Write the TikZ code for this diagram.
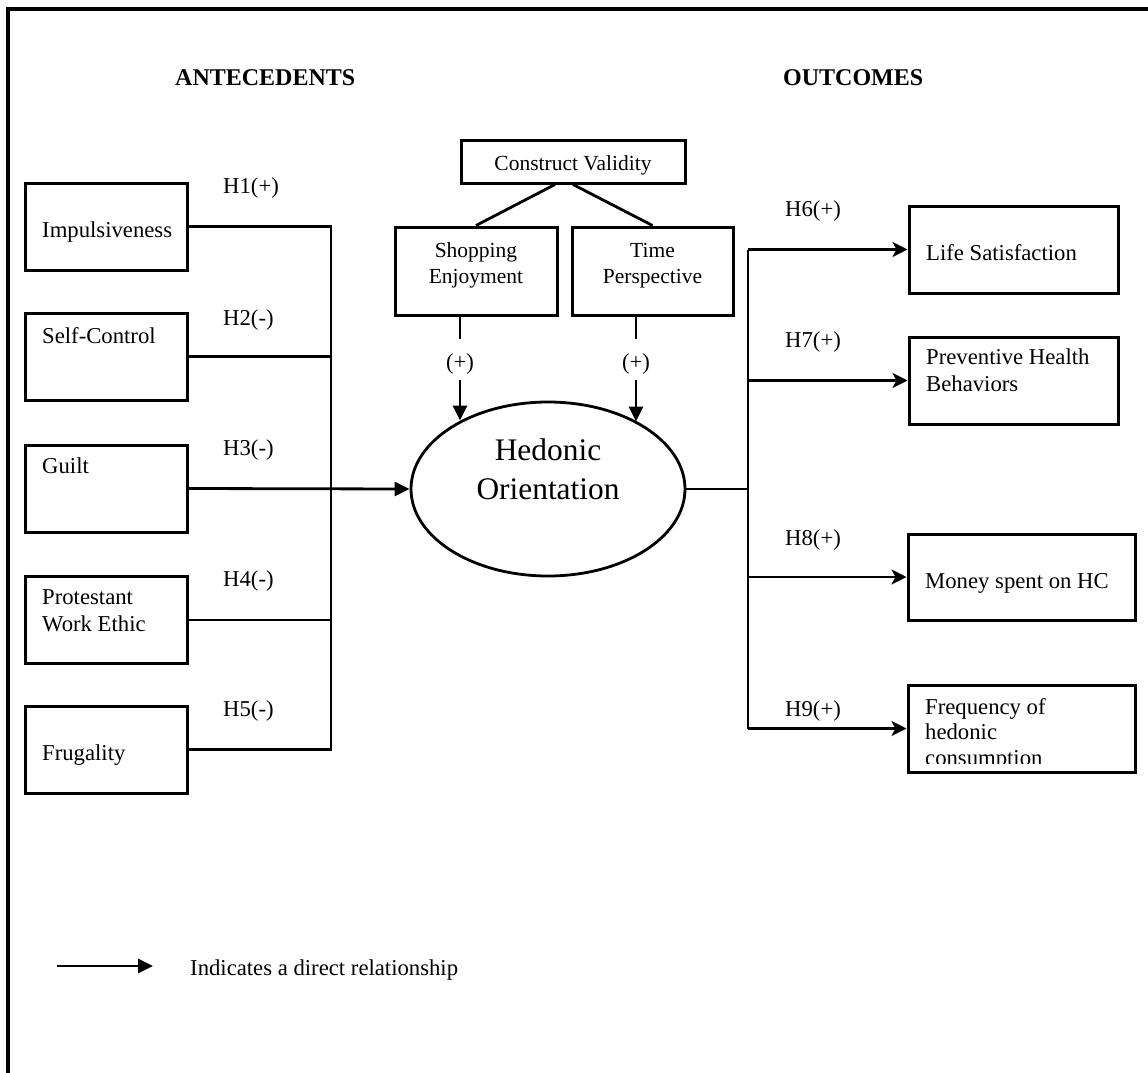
\documentclass[tikz,border=0pt]{standalone}
\usepackage{fontspec}
\setmainfont{Liberation Serif}
\usetikzlibrary{positioning, arrows.meta, calc, shapes.geometric}
\newcommand{\bodyfs}{\fontsize{22.7}{26.5}\selectfont}
\newcommand{\midfs}{\fontsize{21.5}{26}\selectfont}
\newcommand{\hofs}{\fontsize{31.4}{39}\selectfont}
\newcommand{\headfs}{\fontsize{24}{28}\selectfont\bfseries}
\tikzset{
  box/.style  = {draw, rectangle, line width=3pt, inner sep=0pt},
  lbl/.style  = {font=\bodyfs, inner sep=0pt, anchor=base west, align=left},
  ln/.style   = {line width=2.8pt},
  arr/.style  = {-{Triangle[length=15pt, width=14pt]}, line width=2.8pt},
  oarr/.style = {-{Stealth[length=15pt, width=15pt, inset=4pt]}, line width=2.8pt},
}

\begin{document}
\begin{tikzpicture}[x=1pt, y=-1pt]
  \useasboundingbox (0,0) rectangle (1148,1073);
  % frame
  \draw[line width=3.2pt] (8,1073) -- (8,9) -- (1148,9);
  % headings
  \node[lbl, font=\headfs] (anteh) at (175,85) {ANTECEDENTS};
  \node[lbl, font=\headfs] (outh) at (783,85) {OUTCOMES};
  % antecedents
  \node[box, minimum width=162pt, minimum height=87pt] (imp)   at (106,226.5) {};
  \node[box, minimum width=162pt, minimum height=87pt] (sc)    at (106,356.5) {};
  \node[box, minimum width=162pt, minimum height=87pt] (guilt) at (106,488.5) {};
  \node[box, minimum width=162pt, minimum height=87pt] (pwe)   at (106,620) {};
  \node[box, minimum width=162pt, minimum height=87pt] (frug)  at (106,749.5) {};
  \node[lbl] (impt) at (42,237) {Impulsiveness};
  \node[lbl] (sct)  at (42,343) {Self-Control};
  \node[lbl] (gt)   at (42,473) {Guilt};
  \node[lbl] (pwet) at (42,631) {Protestant\\Work Ethic};
  \node[lbl] (frt)  at (42,760) {Frugality};
  \foreach \i/\s/\y in {1/+/193, 2/-/325, 3/-/455, 4/-/586, 5/-/716}
    \node[lbl] (h\i) at (223,\y) {H\i(\s)};
  % left bus
  \coordinate (lb) at (331,0);
  \draw[ln] (imp.east) -- (imp.east -| lb) -- (frug.east -| lb) -- (frug.east);
  \foreach \n in {sc,pwe}
    \draw[ln] (\n.east) -- (\n.east -| lb);
  % construct validity
  \node[box, minimum width=224pt, minimum height=43pt] (cv) at (573,161.5) {};
  \node[lbl, font=\midfs, anchor=base] (cvt) at (573,170) {Construct Validity};
  \node[box, minimum width=162pt, minimum height=88pt] (shop) at (476,271) {};
  \node[box, minimum width=161pt, minimum height=88pt] (time) at (652.5,271) {};
  \node[lbl, font=\midfs, anchor=base, align=center] (shopt) at (476,283) {Shopping\\Enjoyment};
  \node[lbl, font=\midfs, anchor=base, align=center] (timet) at (652.5,283) {Time\\Perspective};
  \draw[ln] ($(cv.south)+(-18,0)$) -- (shop.north);
  \draw[ln] (cv.south) -- (time.north);
  % hedonic orientation
  \node[draw, ellipse, line width=2.8pt, minimum width=274pt, minimum height=174pt,
        inner sep=0pt] (ho) at (548,489) {};
  \node[lbl, font=\hofs, anchor=base, align=center] (hot) at (548,499) {Hedonic\\Orientation};
  \draw[arr] (guilt.east) -- (ho.west);
  % moderators
  \node[lbl, anchor=base] (ps) at (460,369) {(+)};
  \node[lbl, anchor=base] (pt) at (636,369) {(+)};
  \coordinate (sa) at (460,380);
  \coordinate (ta) at (636,380);
  \draw[ln] (shop.south -| sa) -- ++(0,22);
  \draw[ln] (time.south -| ta) -- ++(0,22);
  \draw[arr] (sa) -- (sa |- ho.142.8);
  \draw[arr] (ta) -- (ta |- ho.37.2);
  % outcomes
  \node[box, minimum width=209pt, minimum height=87pt] (ls)    at (1013.5,249.5) {};
  \node[box, minimum width=209pt, minimum height=87pt] (phb)   at (1013.5,380.5) {};
  \node[box, minimum width=227pt, minimum height=86pt] (money) at (1021.5,577) {};
  \node[box, minimum width=227pt, minimum height=87pt] (freq)  at (1021.5,728.5) {};
  \node[lbl] (lst)  at (926,260) {Life Satisfaction};
  \node[lbl] (phbt) at (926,391) {Preventive Health\\Behaviors};
  \node[lbl] (mt)   at (925,588) {Money spent on HC};
  \begin{scope}
    \clip (909,687) rectangle (1134,763);
    \node[lbl, font=\fontsize{22.7}{25.5}\selectfont] (ft) at (925,765) {Frequency of\\hedonic\\consumption};
  \end{scope}
  \foreach \i/\y in {6/216, 7/347, 8/545, 9/716}
    \node[lbl] (h\i) at (785,\y) {H\i(+)};
  % right bus
  \coordinate (rb) at (748,0);
  \draw[ln] (ho.east) -- (ho.east -| rb);
  \draw[ln] (ls.west -| rb) -- (freq.west -| rb);
  \foreach \n in {ls,phb,money,freq}
    \draw[oarr] (\n.west -| rb) -- (\n.west);
  % legend
  \coordinate (lga) at (57,966);
  \coordinate (lgb) at (153,966);
  \draw[arr] (lga) -- (lgb);
  \node[lbl] (lgt) at (190,975) {Indicates a direct relationship};
\end{tikzpicture}
\end{document}
